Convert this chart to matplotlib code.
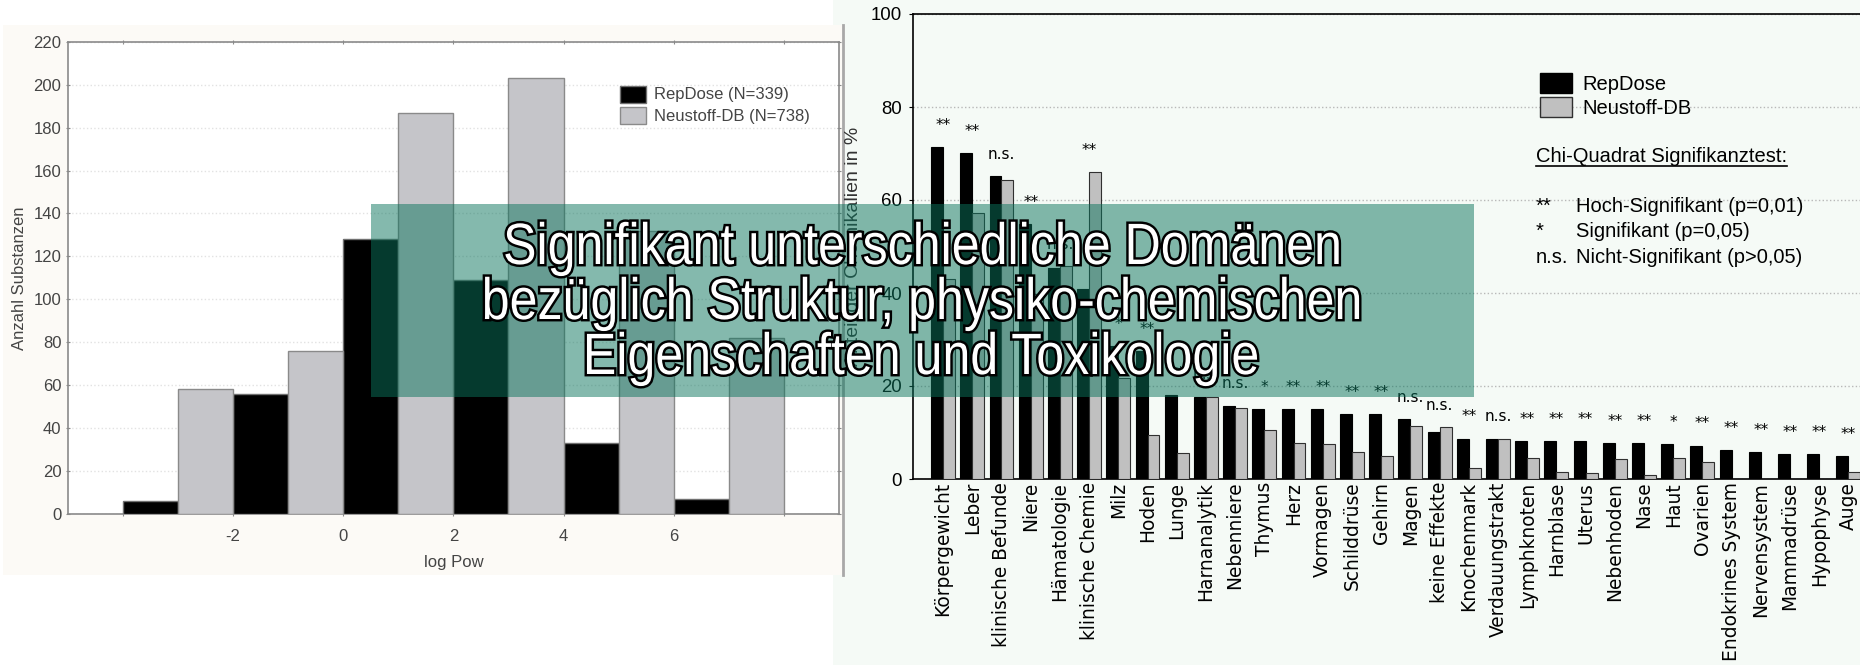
import matplotlib.pyplot as plt
import matplotlib.patheffects as pe
from matplotlib.patches import Rectangle, PathPatch
from matplotlib.lines import Line2D
from matplotlib.textpath import TextPath
from matplotlib.font_manager import FontProperties
from matplotlib.transforms import Affine2D, IdentityTransform

# --- log Pow distribution (one bar per log unit) ---
logpow_rep = [-4, -2, 0, 2, 4, 6]
logpow_neu = [-3, -1, 1, 3, 5, 7]
count_rep = [6, 56, 128, 109, 33, 7]
count_neu = [58, 76, 187, 203, 132, 82]
logpow_ticks = [-4, -2, 0, 2, 4, 6, 8]
logpow_ticklabels = ['', '-2', '0', '2', '4', '6', '']

# --- affected organs / effects in % of chemicals ---
organs = ['Körpergewicht', 'Leber', 'klinische Befunde', 'Niere', 'Hämatologie',
          'klinische Chemie', 'Milz', 'Hoden', 'Lunge', 'Harnanalytik', 'Nebenniere',
          'Thymus', 'Herz', 'Vormagen', 'Schilddrüse', 'Gehirn', 'Magen',
          'keine Effekte', 'Knochenmark', 'Verdauungstrakt', 'Lymphknoten',
          'Harnblase', 'Uterus', 'Nebenhoden', 'Nase', 'Haut', 'Ovarien',
          'Endokrines System', 'Nervensystem', 'Mammadrüse', 'Hypophyse', 'Auge']
pct_rep = [71.3, 70.1, 65.2, 54.8, 45.4, 40.8, 28.5, 27.5, 18.1, 17.6, 15.8,
           15.0, 15.0, 15.0, 14.0, 14.0, 12.8, 10.1, 8.7, 8.5, 8.2,
           8.2, 8.2, 7.7, 7.7, 7.5, 7.2, 6.2, 5.7, 5.4, 5.4, 4.9]
pct_neu = [43.0, 57.1, 64.2, 39.8, 45.7, 66.0, 21.7, 9.4, 5.6, 17.7, 15.2,
           10.5, 7.8, 7.5, 5.9, 4.9, 11.3, 11.1, 2.3, 8.7, 4.5,
           1.5, 1.3, 4.2, 0.8, 4.5, 3.6, 0.0, 0.0, 0.0, 0.0, 1.4]
signif = ['**', '**', 'n.s.', '**', 'n.s.', '**', '*', '**', '**', 'n.s.', 'n.s.',
          '*', '**', '**', '**', '**', 'n.s.', 'n.s.', '**', 'n.s.', '**',
          '**', '**', '**', '**', '*', '**', '**', '**', '**', '**', '**']

title_lines = ['Signifikant unterschiedliche Domänen',
               'bezüglich Struktur, physiko-chemischen',
               'Eigenschaften und Toxikologie']

W, H = 1860, 665


def fx(x):
    return x / W


def fy(y):
    return 1 - y / H


ARIAL = 'Liberation Sans'
fig = plt.figure(figsize=(W / 100, H / 100), dpi=100)
fig.patch.set_facecolor('white')

# backgrounds of the two panels
fig.patches.append(Rectangle((fx(833), 0), 1 - fx(833), 1, transform=fig.transFigure,
                             facecolor='#f5faf6', edgecolor='none', zorder=-3))
fig.patches.append(Rectangle((fx(3), fy(575)), fx(842), (575 - 25) / H,
                             transform=fig.transFigure, facecolor='#fcfaf6',
                             edgecolor='none', zorder=-2))
fig.lines.append(Line2D([fx(843), fx(843)], [fy(25), fy(575)], transform=fig.transFigure,
                        color='#a8a8a8', lw=2, zorder=-1))

# ---------------- left: histogram ----------------
ax1 = fig.add_axes([fx(67.7), fy(514), fx(839 - 67.7), (514 - 41.7) / H])
ax1.set_facecolor('white')
ax1.bar(logpow_rep, count_rep, width=1, align='edge', color='black',
        edgecolor='#707070', linewidth=1, zorder=3)
ax1.bar(logpow_neu, count_neu, width=1, align='edge', color='#c5c5c9',
        edgecolor='#8a8a8a', linewidth=1, zorder=3)
ax1.set_xlim(-5, 9)
ax1.set_ylim(0, 220)
ax1.set_yticks(range(0, 221, 20))
ax1.set_xticks(logpow_ticks)
ax1.set_xticklabels(logpow_ticklabels)
ax1.grid(axis='y', color='#e2e2e2', linestyle=':', linewidth=1)
ax1.set_axisbelow(True)
for s in ax1.spines.values():
    s.set_color('#8a8a8a')
    s.set_linewidth(1.2)
ax1.tick_params(axis='both', colors='#8a8a8a', labelcolor='#444444', labelsize=12,
                length=3, top=True, right=True, direction='inout')
ax1.tick_params(axis='x', pad=9)
ax1.tick_params(axis='y', pad=3)
for lab in ax1.get_xticklabels() + ax1.get_yticklabels():
    lab.set_family(ARIAL)
ax1.set_xlabel('log Pow', fontsize=12, color='#444444', family=ARIAL, labelpad=8)
ax1.set_ylabel('Anzahl Substanzen', fontsize=12, color='#444444', family=ARIAL,
               labelpad=5)

# legend of the histogram
for y0, col, ec, txt in [(86, 'black', '#707070', 'RepDose (N=339)'),
                         (107, '#c5c5c9', '#8a8a8a', 'Neustoff-DB (N=738)')]:
    fig.patches.append(Rectangle((fx(620), fy(y0 + 17)), fx(26), 17 / H,
                                 transform=fig.transFigure, facecolor=col,
                                 edgecolor=ec, lw=1, zorder=5))
    fig.text(fx(654), fy(y0 + 9), txt, fontsize=12, color='#444444', family=ARIAL,
             va='center', ha='left', zorder=5)

# ---------------- right: organ bar chart ----------------
ax2 = fig.add_axes([fx(913), fy(479), fx(1870 - 913), (479 - 14) / H])
ax2.set_facecolor('#f5faf6')
idx = list(range(len(organs)))
bw = 0.41
ax2.bar([i - bw / 2 for i in idx], pct_rep, width=bw, color='black',
        edgecolor='black', linewidth=0.8, zorder=3)
ax2.bar([i + bw / 2 for i in idx], pct_neu, width=bw, color='#c0c0c0',
        edgecolor='#303030', linewidth=0.8, zorder=3)
for i, lab in enumerate(signif):
    top = max(pct_rep[i], pct_neu[i])
    ax2.text(i, top + 3.7, lab, ha='center', va='baseline', fontsize=11,
             family='DejaVu Sans', zorder=4)

ax2.set_xlim(-1.03, 31.74)
ax2.set_ylim(0, 100)
ax2.set_yticks(range(0, 101, 20))
ax2.set_xticks(idx)
ax2.set_xticklabels(organs, rotation=90, fontsize=13.4, family='DejaVu Sans')
ax2.set_xticks(range(0, 32, 2), minor=True)
ax2.tick_params(axis='x', which='major', bottom=False, top=False, length=0, pad=2)
ax2.tick_params(axis='x', which='minor', bottom=False, top=True, direction='in',
                length=3, color='#606060')
ax2.tick_params(axis='y', direction='out', length=3, pad=5, labelsize=13.4)
for lab in ax2.get_yticklabels():
    lab.set_family(ARIAL)
ax2.grid(axis='y', color='#b8b8b8', linestyle=':', linewidth=1)
ax2.set_axisbelow(True)
for s in ['left', 'top', 'bottom']:
    ax2.spines[s].set_linewidth(1.2)
    ax2.spines[s].set_color('black')
ax2.spines['right'].set_visible(False)
ax2.set_ylabel('Anteil der Chemikalien in %', fontsize=14, family=ARIAL,
               color='#333333', labelpad=6)

# legend and significance key
for y0, col, ec, txt in [(73, 'black', 'black', 'RepDose'),
                         (97, '#c0c0c0', '#303030', 'Neustoff-DB')]:
    fig.patches.append(Rectangle((fx(1540), fy(y0 + 20)), fx(32), 20 / H,
                                 transform=fig.transFigure, facecolor=col,
                                 edgecolor=ec, lw=1, zorder=5))
    fig.text(fx(1582), fy(y0 + 17), txt, fontsize=14.5, family=ARIAL,
             va='baseline', ha='left', zorder=5)

chi = fig.text(fx(1536), fy(162), 'Chi-Quadrat Signifikanztest:', fontsize=14.5,
               family=ARIAL, va='baseline', ha='left', zorder=5)
key = [('**', 'Hoch-Signifikant (p=0,01)', 212),
       ('*', 'Signifikant (p=0,05)', 237),
       ('n.s.', 'Nicht-Signifikant (p>0,05)', 263)]
for sym, txt, yb in key:
    fig.text(fx(1536), fy(yb), sym, fontsize=14.5, family=ARIAL, va='baseline',
             ha='left', zorder=5)
    fig.text(fx(1576), fy(yb), txt, fontsize=14.5, family=ARIAL, va='baseline',
             ha='left', zorder=5)

fig.canvas.draw()
bb = chi.get_window_extent()
fig.lines.append(Line2D([bb.x0 / W, bb.x1 / W], [fy(165.5), fy(165.5)],
                        transform=fig.transFigure, color='black', lw=1.2, zorder=5))

# ---------------- overlay banner ----------------
fig.patches.append(Rectangle((fx(371), fy(397)), fx(1474 - 371), (397 - 204) / H,
                             transform=fig.transFigure, facecolor='#0a745c',
                             alpha=0.5, edgecolor='none', zorder=20))

# condensed white lettering with black outline (text path squeezed horizontally)
title_prop = FontProperties(family=ARIAL)
em_px = 58.3
squeeze = 0.86
for line, yb in zip(title_lines, [264, 319, 374]):
    tp = TextPath((0, 0), line, size=em_px, prop=title_prop)
    ext = tp.get_extents()
    width = (ext.x1 - ext.x0) * squeeze
    tr = Affine2D().translate(-ext.x0, 0).scale(squeeze, 1).translate(922 - width / 2, H - yb)
    patch = PathPatch(tr.transform_path(tp), facecolor='white', edgecolor='none',
                      transform=IdentityTransform(), zorder=21)
    patch.set_path_effects([pe.withStroke(linewidth=3.5, foreground='black')])
    fig.patches.append(patch)

fig.savefig('out.png', dpi=100)
